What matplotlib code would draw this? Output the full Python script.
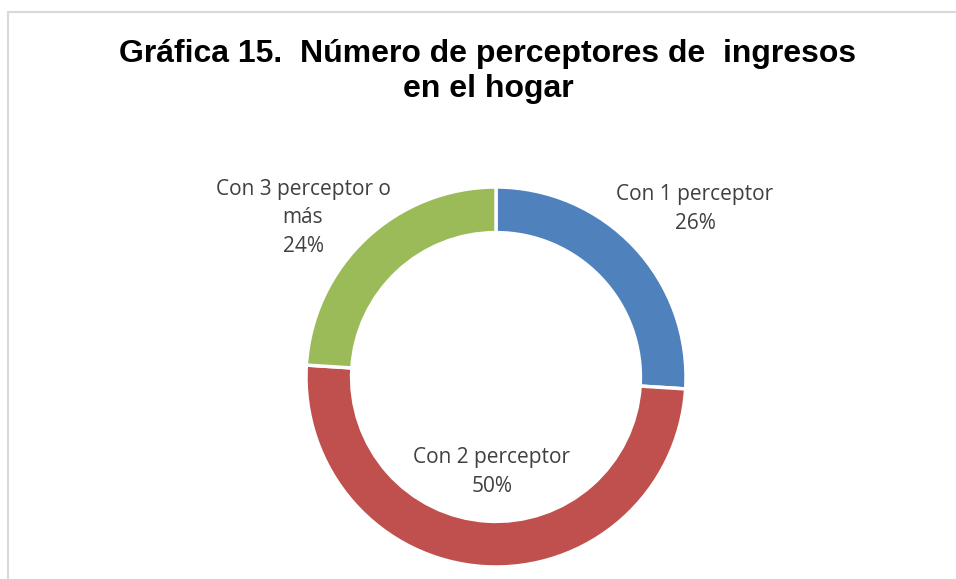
import matplotlib
matplotlib.use('Agg')
import matplotlib.pyplot as plt
from matplotlib.patches import Rectangle

# Datos
categorias = ['Con 1 perceptor', 'Con 2 perceptor', 'Con 3 perceptor o\nmás']
valores = [26, 50, 24]
colores = ['#4F81BD', '#C0504D', '#9BBB59']
titulo = ['Gráfica 15.  Número de perceptores de  ingresos', 'en el hogar']

fig = plt.figure(figsize=(9.56, 5.79), dpi=100)

# marco gris del gráfico
fig.patches.append(Rectangle((8/956, -0.05), 1.1, (579-12)/579 + 0.05,
                             transform=fig.transFigure, fill=False,
                             edgecolor='#D9D9D9', linewidth=1.5))

for linea, yb in zip(titulo, [62, 97]):
    fig.text(488/956, 1 - yb/579, linea, ha='center', va='baseline',
             fontsize=23, fontweight='bold', family='Liberation Sans')

# eje para el anillo (centro 496,377 radio 190 px)
r = 190
ax = fig.add_axes([(496 - r)/956, (579 - 377 - r)/579, 2*r/956, 2*r/579])
ax.pie(valores, colors=colores, startangle=90, counterclock=False, radius=1,
       wedgeprops=dict(width=0.24, edgecolor='white', linewidth=2.5))
ax.set_xlim(-1, 1)
ax.set_ylim(-1, 1)
ax.set_aspect('equal')
ax.axis('off')

# etiquetas
pos = [(695, 209), (492, 472), (303, 218)]
for cat, v, (x, y) in zip(categorias, valores, pos):
    fig.text(x/956, 1 - y/579, f'{cat}\n{v}%', ha='center', va='center',
             fontsize=15, family='Open Sans', color='#404040', linespacing=1.45)

plt.savefig('out.png', dpi=100)
